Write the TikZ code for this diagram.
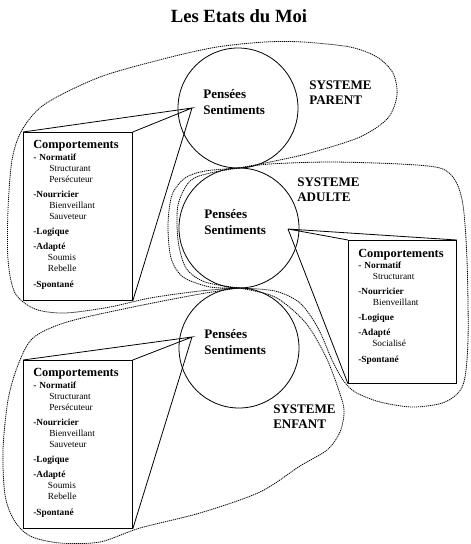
\documentclass[tikz,border=0pt]{standalone}
\usepackage{fontspec}
\setmainfont{Liberation Serif}
\usetikzlibrary{positioning}
\tikzset{
  etat/.style={circle, draw, line width=0.6pt, minimum size=90pt, inner sep=0pt},
  pensee/.style={text width=60pt, align=left, anchor=base west, inner sep=0pt,
    font=\fontsize{9.8}{12}\selectfont\bfseries},
  systeme/.style={text width=60pt, align=left, anchor=base west, inner sep=0pt,
    font=\fontsize{9.8}{11.4}\selectfont\bfseries},
  compbox/.style={rectangle, draw, line width=0.6pt, anchor=north west,
    minimum width=81.75pt, minimum height=126pt, inner sep=0pt},
  complist/.style={text width=75pt, align=left, anchor=base west, inner sep=0pt,
    font=\fontsize{7}{8.25}\selectfont},
  rayon/.style={line width=0.6pt},
  contour/.style={dash pattern=on 0.9pt off 0.6pt, line width=0.6pt}
}
\newcommand{\titrecomp}{{\fontsize{9.3}{9.3}\selectfont\bfseries Comportements}}
\newcommand{\listecomplete}{\titrecomp\\[0.75pt]
  \textbf{- Normatif}\\
  \hspace*{12pt}Structurant\\
  \hspace*{12pt}Persécuteur\\[3pt]
  \textbf{-Nourricier}\\
  \hspace*{12pt}Bienveillant\\
  \hspace*{12pt}Sauveteur\\[3pt]
  \textbf{-Logique}\\[3pt]
  \textbf{-Adapté}\\
  \hspace*{11pt}Soumis\\
  \hspace*{11pt}Rebelle\\[3.75pt]
  \textbf{-Spontané}}
\newcommand{\listeadulte}{\titrecomp\\[0.5pt]
  \textbf{- Normatif}\\
  \hspace*{11pt}Structurant\\[3pt]
  \textbf{-Nourricier}\\
  \hspace*{11pt}Bienveillant\\[3pt]
  \textbf{-Logique}\\[3pt]
  \textbf{-Adapté}\\
  \hspace*{10.5pt}Socialisé\\[3.5pt]
  \textbf{-Spontané}}

\begin{document}
\begin{tikzpicture}[x=0.75pt, y=-0.75pt]
  \useasboundingbox (0,0) rectangle (471,544);
  \node[font=\fontsize{14}{16}\selectfont\bfseries, anchor=base] (titre) at (239,22) {Les Etats du Moi};

  % les trois etats
  \node[etat] (parent) at (238,108) {};
  \node[etat] (adulte) at (239,228) {};
  \node[etat] (enfant) at (239,348) {};
  \foreach \e in {parent, adulte, enfant}
    \node[pensee] at ([shift={(-35,-10)}]\e.center) {Pensées\\Sentiments};

  \coordinate (j1) at (239,168);
  \coordinate (j2) at (239,288);
  \coordinate (pointP) at (192,108);
  \coordinate (pointA) at (288,229);
  \coordinate (pointE) at (192,337);

  % comportements
  \node[compbox] (boiteP) at (23,132) {};
  \node[compbox] (boiteE) at (23,360) {};
  \node[compbox, minimum width=81pt, minimum height=107.25pt] (boiteA) at (348,240) {};
  \node[complist] at ([shift={(10,16)}]boiteP.north west) {\listecomplete};
  \node[complist] at ([shift={(10,16)}]boiteE.north west) {\listecomplete};
  \node[complist] at ([shift={(10,17)}]boiteA.north west) {\listeadulte};

  \draw[rayon] (boiteP.north west) -- (pointP) -- (boiteP.north east)
    (pointP) -- (boiteP.south east);
  \draw[rayon] (boiteA.north east) -- (pointA) -- (boiteA.north west)
    (pointA) -- (boiteA.south west);
  \draw[rayon] (boiteE.north west) -- (pointE) -- (boiteE.north east)
    (pointE) -- (boiteE.south east);

  % systemes
  \draw[contour] plot[smooth] coordinates {(j1) (270,162) (310,153) (360,137) (388,118)
      (397,95) (393,73) (377,57) (350,47) (303,42) (265,42) (217,47) (167,58) (100,77)
      (45,104) (22,130) (12,160) (8,210) (8,260) (15,293) (35,309) (65,313) (110,307)
      (150,298) (200,291) (j2)}
    plot[smooth] coordinates {(j2) (210,287) (183,277) (171,258) (168,225) (172,195)
      (185,178) (205,171) (j1)};
  \draw[contour] plot[smooth] coordinates {(j1) (270,164) (330,162) (400,164) (440,168)
      (455,180) (463,205) (467,260) (468,340) (463,385) (445,402) (413,407) (380,402)
      (355,392) (343,380) (332,360) (318,328) (300,303) (275,291) (j2)}
    plot[smooth] coordinates {(j2) (205,282) (186,268) (178,240) (178,205) (190,181)
      (210,173) (j1)};
  \draw[contour] plot[smooth] coordinates {(j2) (275,297) (305,322) (325,355) (337,385)
      (344,410) (340,432) (327,450) (300,466) (260,492) (200,513) (140,528) (100,542)
      (60,543) (30,536) (14,520) (5,495) (3,450) (8,400) (18,365) (33,338) (67,322)
      (133,307) (200,294) (j2)};

  \node[systeme] (sysP) at (309,89) {SYSTEME\\PARENT};
  \node[systeme] (sysA) at (297,186) {SYSTEME\\ADULTE};
  \node[systeme] (sysE) at (273,413) {SYSTEME\\ENFANT};
\end{tikzpicture}
\end{document}
